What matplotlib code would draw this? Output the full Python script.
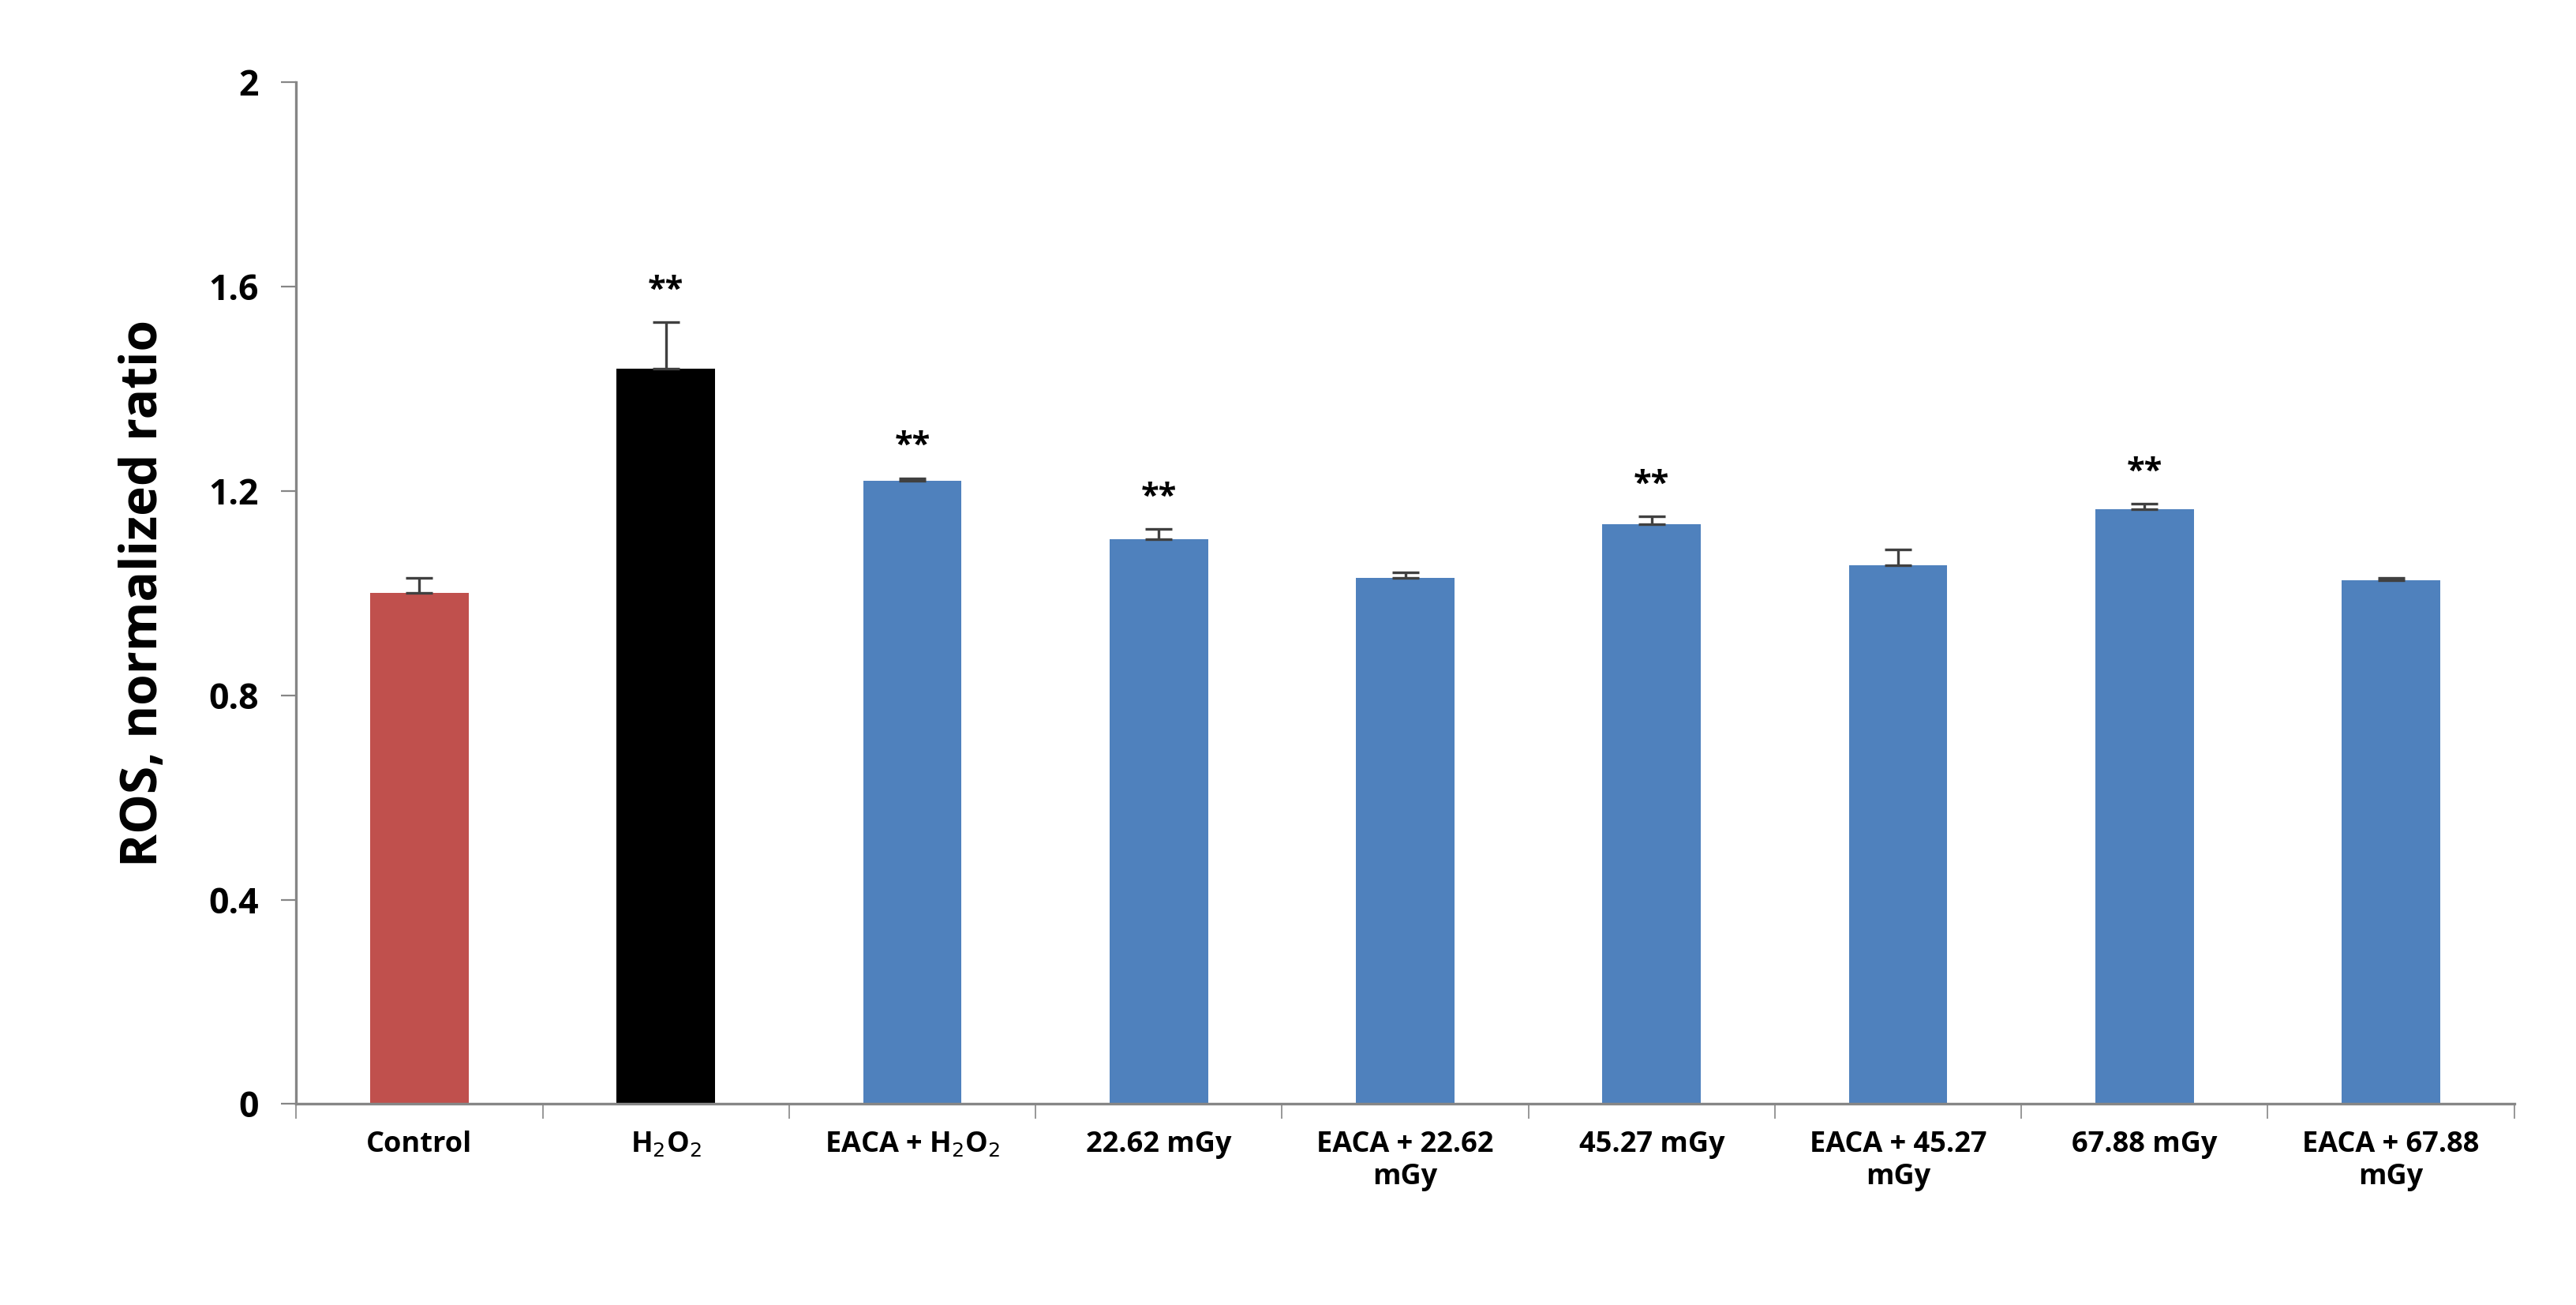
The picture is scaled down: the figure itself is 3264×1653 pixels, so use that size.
import matplotlib.pyplot as plt
import numpy as np

# data
labels = ['Control', 'H$_2$O$_2$', 'EACA + H$_2$O$_2$', '22.62 mGy', 'EACA + 22.62\nmGy',
          '45.27 mGy', 'EACA + 45.27\nmGy', '67.88 mGy', 'EACA + 67.88\nmGy']
values = [1.0, 1.44, 1.22, 1.105, 1.03, 1.135, 1.055, 1.165, 1.025]
errors = [0.03, 0.09, 0.005, 0.02, 0.01, 0.015, 0.03, 0.01, 0.005]
stars = [False, True, True, True, False, True, False, True, False]
colors = ['#C0504D', '#000000'] + ['#4F81BD'] * 7

plt.rcParams['font.family'] = ['Open Sans', 'DejaVu Sans']
fig = plt.figure(figsize=(16.32, 8.265), dpi=200)
ax = fig.add_axes([0.115, 0.154, 0.861, 0.783])

x = np.arange(len(values))
ax.bar(x, values, width=0.4, color=colors, zorder=2)
ax.errorbar(x, values, yerr=[np.zeros(len(errors)), errors], fmt='none',
            ecolor='#404040', elinewidth=1.2, capsize=6, capthick=1.2, zorder=3)
for xi, v, e, s in zip(x, values, errors, stars):
    if s:
        ax.text(xi, v + e + 0.03, '**', ha='center', va='bottom', fontsize=15, fontweight='bold')

ax.set_xlim(-0.5, len(values) - 0.5)
ax.set_ylim(0, 2)
ax.set_yticks([0, 0.4, 0.8, 1.2, 1.6, 2])
ax.set_yticklabels(['0', '0.4', '0.8', '1.2', '1.6', '2'], fontsize=16, fontweight='bold')
ax.set_xticks(x)
ax.set_xticklabels(labels, fontsize=13, fontweight='bold')
ax.tick_params(axis='x', length=0, pad=12)
ax.set_xticks(np.arange(-0.5, len(values)), minor=True)
ax.tick_params(axis='x', which='minor', length=7, color='#868686', direction='out')
ax.tick_params(axis='y', length=7, color='#868686', direction='out', pad=10)
ax.set_ylabel('ROS, normalized ratio', fontsize=23, fontweight='bold', labelpad=18)
for side in ['top', 'right']:
    ax.spines[side].set_visible(False)
for side in ['left', 'bottom']:
    ax.spines[side].set_color('#868686')
    ax.spines[side].set_linewidth(1.2)

fig.savefig('out.png', dpi=200)
